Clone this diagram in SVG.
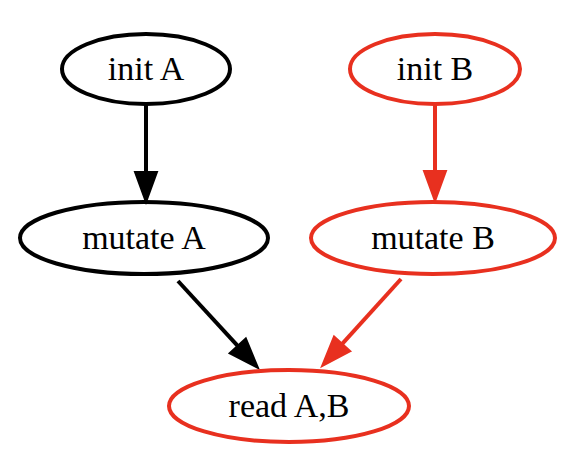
<svg xmlns="http://www.w3.org/2000/svg" width="573" height="459" viewBox="0 0 573 459">
<style>
.n{fill:none;stroke-width:4}
.k{stroke:#000000}
.r{stroke:#e8301f}
text{font-family:"Liberation Serif","Times New Roman",serif;font-size:34px;fill:#000;text-anchor:middle}
.e{fill:none;stroke-width:4}
</style>
<defs>
<marker id="ak" markerUnits="userSpaceOnUse" markerWidth="34" markerHeight="26" refX="0" refY="11" orient="auto" overflow="visible">
<path d="M0,0 L30,11 L0,22 z" fill="#000000" stroke="#000000" stroke-width="2"/>
</marker>
<marker id="ar" markerUnits="userSpaceOnUse" markerWidth="34" markerHeight="26" refX="0" refY="11" orient="auto" overflow="visible">
<path d="M0,0 L30,11 L0,22 z" fill="#e8301f" stroke="#e8301f" stroke-width="2"/>
</marker>
</defs>
<rect width="573" height="459" fill="#ffffff"/>
<g id="connectors">
<line class="e" x1="146" y1="104" x2="146" y2="172" stroke="#000000" marker-end="url(#ak)"/>
<line class="e" x1="435" y1="104" x2="435" y2="171" stroke="#e8301f" marker-end="url(#ar)"/>
<line class="e" x1="178" y1="281" x2="237.7" y2="345.9" stroke="#000000" marker-end="url(#ak)"/>
<line class="e" x1="401" y1="279" x2="342.2" y2="343.8" stroke="#e8301f" marker-end="url(#ar)"/>
</g>
<g id="initA"><ellipse class="n k" cx="146" cy="69" rx="84" ry="35"/><text x="146" y="80">init A</text></g>
<g id="initB"><ellipse class="n r" cx="435" cy="69" rx="85" ry="35"/><text x="435" y="80">init B</text></g>
<g id="mutateA"><ellipse class="n k" cx="144" cy="238" rx="124" ry="36"/><text x="144" y="249">mutate A</text></g>
<g id="mutateB"><ellipse class="n r" cx="433" cy="238" rx="122" ry="36"/><text x="433" y="249">mutate B</text></g>
<g id="readAB"><ellipse class="n r" cx="289" cy="406" rx="120" ry="36"/><text x="289" y="417">read A,B</text></g>
</svg>
